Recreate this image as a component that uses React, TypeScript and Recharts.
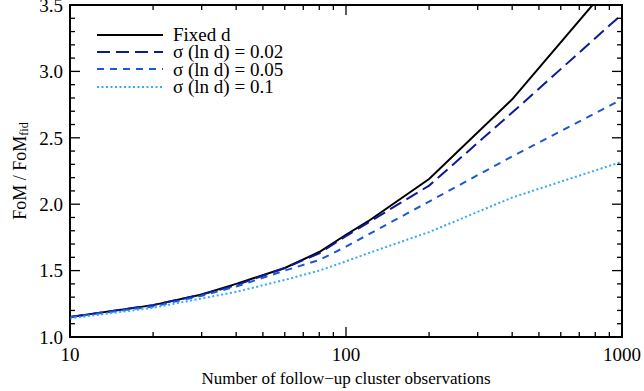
import React from 'react';
import { LineChart, Line, XAxis, YAxis, ReferenceArea } from 'recharts';

// number of follow-up cluster observations
const observations = [10, 20, 30, 40, 60, 80, 100, 120, 200, 400, 1000];
const fixedD = [1.15, 1.24, 1.32, 1.4, 1.52, 1.64, 1.77, 1.87, 2.19, 2.79, 3.76];
const sigma002 = [1.15, 1.24, 1.32, 1.39, 1.52, 1.63, 1.76, 1.86, 2.14, 2.69, 3.43];
const sigma005 = [1.15, 1.23, 1.31, 1.38, 1.5, 1.58, 1.68, 1.77, 2.02, 2.36, 2.79];
const sigma01 = [1.14, 1.22, 1.29, 1.34, 1.43, 1.5, 1.57, 1.63, 1.79, 2.05, 2.32];

const xMajor = [10, 100, 1000];
const xMinor = [20, 30, 40, 50, 60, 70, 80, 90, 200, 300, 400, 500, 600, 700, 800, 900];
const yMajor = [1.0, 1.5, 2.0, 2.5, 3.0, 3.5];
const yMinor = [
  1.1, 1.2, 1.3, 1.4, 1.6, 1.7, 1.8, 1.9, 2.1, 2.2, 2.3, 2.4,
  2.6, 2.7, 2.8, 2.9, 3.1, 3.2, 3.3, 3.4,
];

const data = observations.map((x, i) => ({
  x,
  fixed: fixedD[i],
  s002: sigma002[i],
  s005: sigma005[i],
  s01: sigma01[i],
}));

const series = [
  { key: 'fixed', name: 'Fixed d', color: '#000000', dash: undefined },
  { key: 's002', name: 'σ (ln d) = 0.02', color: '#0d1a96', dash: '13 6' },
  { key: 's005', name: 'σ (ln d) = 0.05', color: '#1c58d0', dash: '7 6' },
  { key: 's01', name: 'σ (ln d) = 0.1', color: '#36a8ff', dash: '2 2.5' },
];

const FONT = '"Liberation Serif", "DejaVu Serif", serif';
const X_DOMAIN = [10, 1000];
const Y_DOMAIN = [1, 3.5];

// chart box
const W = 644;
const H = 391;
const M_TOP = 5;
const M_RIGHT = 22;
const Y_W = 70;
const X_H = 54;
const PLOT_LEFT = Y_W;
const PLOT_RIGHT = W - M_RIGHT;
const PLOT_TOP = M_TOP;
const PLOT_BOTTOM = H - X_H;

const isMajor = (list: number[], v: number) => list.some((m) => Math.abs(m - v) < 1e-9);

// inward ticks on bottom + top, label only on majors
const XTick = (props: any) => {
  const { x, y, payload } = props;
  const v = payload.value;
  const major = isMajor(xMajor, v);
  const len = major ? 10 : 5;
  return (
    <g>
      <line x1={x} x2={x} y1={PLOT_BOTTOM} y2={PLOT_BOTTOM - len} stroke="#000" strokeWidth={1.3} />
      <line x1={x} x2={x} y1={PLOT_TOP} y2={PLOT_TOP + len} stroke="#000" strokeWidth={1.3} />
      {major && (
        <text x={x} y={y} dy="0.71em" textAnchor="middle" fontFamily={FONT} fontSize={19} fill="#000">
          {v}
        </text>
      )}
    </g>
  );
};

// inward ticks on left + right
const YTick = (props: any) => {
  const { x, y, payload } = props;
  const v = payload.value;
  const major = isMajor(yMajor, v);
  const len = major ? 10 : 5;
  return (
    <g>
      <line x1={PLOT_LEFT} x2={PLOT_LEFT + len} y1={y} y2={y} stroke="#000" strokeWidth={1.3} />
      <line x1={PLOT_RIGHT} x2={PLOT_RIGHT - len} y1={y} y2={y} stroke="#000" strokeWidth={1.3} />
      {major && (
        <text x={x} y={y} dy="0.355em" textAnchor="end" fontFamily={FONT} fontSize={19} fill="#000">
          {v.toFixed(1)}
        </text>
      )}
    </g>
  );
};

const Legend = () => (
  <div style={{ position: 'absolute', left: 97, top: 26, fontFamily: FONT, fontSize: 19, lineHeight: '17.4px' }}>
    {series.map((s) => (
      <div key={s.key} style={{ display: 'flex', alignItems: 'center', height: 17.4 }}>
        <svg width={66} height={6} style={{ marginRight: 10 }}>
          <line x1={0} y1={3} x2={66} y2={3} stroke={s.color} strokeWidth={2} strokeDasharray={s.dash} />
        </svg>
        <span style={{ whiteSpace: 'nowrap' }}>{s.name}</span>
      </div>
    ))}
  </div>
);

export default function App() {
  return (
    <div style={{ position: 'absolute', left: 0, top: 0, width: W, height: H, background: '#fff' }}>
      <LineChart width={W} height={H} data={data} margin={{ top: M_TOP, right: M_RIGHT, bottom: 0, left: 0 }}>
        <XAxis
          xAxisId="main"
          dataKey="x"
          type="number"
          scale="log"
          domain={X_DOMAIN}
          allowDataOverflow
          ticks={[...xMajor, ...xMinor]}
          interval={0}
          height={X_H}
          stroke="#000"
          tickLine={false}
          tickSize={0}
          tickMargin={11}
          tick={XTick}
          label={{
            content: () => (
              <text x={(PLOT_LEFT + PLOT_RIGHT) / 2} y={384} textAnchor="middle" fontFamily={FONT} fontSize={17} fill="#000">
                Number of follow−up cluster observations
              </text>
            ),
          }}
        />
        <YAxis
          yAxisId="main"
          type="number"
          domain={Y_DOMAIN}
          allowDataOverflow
          ticks={[...yMajor, ...yMinor]}
          interval={0}
          width={Y_W}
          stroke="#000"
          tickLine={false}
          tickSize={0}
          tickMargin={7}
          tick={YTick}
          label={{
            content: () => (
              <text
                x={20}
                y={171}
                transform="rotate(-90, 20, 171)"
                textAnchor="middle"
                dominantBaseline="central"
                fontFamily={FONT}
                fontSize={18}
                fill="#000"
              >
                FoM / FoM
                <tspan fontSize={12} dy={4}>fid</tspan>
              </text>
            ),
          }}
        />
        <ReferenceArea
          xAxisId="main"
          yAxisId="main"
          x1={X_DOMAIN[0]}
          x2={X_DOMAIN[1]}
          y1={Y_DOMAIN[0]}
          y2={Y_DOMAIN[1]}
          fill="none"
          fillOpacity={0}
          stroke="#000"
          strokeWidth={2}
          ifOverflow="visible"
        />
        {series.map((s) => (
          <Line
            key={s.key}
            xAxisId="main"
            yAxisId="main"
            type="linear"
            dataKey={s.key}
            name={s.name}
            stroke={s.color}
            strokeWidth={2}
            strokeDasharray={s.dash}
            dot={false}
            activeDot={false}
            isAnimationActive={false}
          />
        ))}
      </LineChart>
      <Legend />
    </div>
  );
}
